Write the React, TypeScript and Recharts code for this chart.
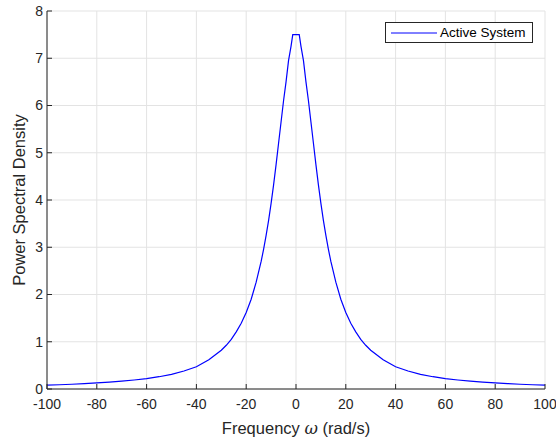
import React from 'react'
import {
  LineChart,
  Line,
  XAxis,
  YAxis,
  CartesianGrid,
  Legend,
  Label,
} from 'recharts'

// frequency samples (rad/s)
const omega = [
  -100, -95, -90, -85, -80, -75, -70, -65, -60, -55, -50, -45, -40, -35, -30,
  -28, -26, -24, -22, -20, -18, -16, -14, -13, -12, -11, -10, -9, -8, -7, -6,
  -5, -4, -3, -2, -1.3, 0, 1.3, 2, 3, 4, 5, 6, 7, 8, 9, 10, 11, 12, 13, 14, 16,
  18, 20, 22, 24, 26, 28, 30, 35, 40, 45, 50, 55, 60, 65, 70, 75, 80, 85, 90,
  95, 100,
]

// power spectral density
const psd = [
  0.08, 0.09, 0.1, 0.115, 0.13, 0.145, 0.165, 0.19, 0.22, 0.26, 0.31, 0.38,
  0.47, 0.62, 0.82, 0.925, 1.05, 1.21, 1.39, 1.62, 1.9, 2.26, 2.7, 2.96, 3.25,
  3.57, 3.93, 4.32, 4.75, 5.2, 5.65, 6.1, 6.5, 6.95, 7.25, 7.5, 7.5, 7.5, 7.25,
  6.95, 6.5, 6.1, 5.65, 5.2, 4.75, 4.32, 3.93, 3.57, 3.25, 2.96, 2.7, 2.26, 1.9,
  1.62, 1.39, 1.21, 1.05, 0.925, 0.82, 0.62, 0.47, 0.38, 0.31, 0.26, 0.22, 0.19,
  0.165, 0.145, 0.13, 0.115, 0.1, 0.09, 0.08,
]

const xTicks = [-100, -80, -60, -40, -20, 0, 20, 40, 60, 80, 100]
const yTicks = [0, 1, 2, 3, 4, 5, 6, 7, 8]
const seriesName = 'Active System'

const data = omega.map((w, i) => ({ w, psd: psd[i] }))

const axisColor = '#262626'
const font = '"Liberation Sans", Arial, sans-serif'

function XLabel({ viewBox }: any) {
  const cx = viewBox.x + viewBox.width / 2
  return (
    <text x={cx} y={viewBox.y + 45} textAnchor="middle" fill={axisColor} fontSize={16.5} fontFamily={font}>
      Frequency <tspan fontStyle="italic" fontFamily='"DejaVu Serif", serif'>ω</tspan> (rad/s)
    </text>
  )
}

function YLabel({ viewBox }: any) {
  const cy = viewBox.y + viewBox.height / 2
  const x = 25
  return (
    <text x={x} y={cy} transform={`rotate(-90, ${x}, ${cy})`} textAnchor="middle" fill={axisColor} fontSize={16.5} fontFamily={font}>
      Power Spectral Density
    </text>
  )
}

function LegendBox() {
  return (
    <div
      style={{
        border: `1px solid ${axisColor}`,
        background: '#fff',
        display: 'flex',
        alignItems: 'center',
        padding: '2px 6px 2px 5px',
        fontFamily: font,
        fontSize: 13.5,
        color: '#000',
        whiteSpace: 'nowrap',
      }}
    >
      <svg width={46} height={10} style={{ display: 'block' }}>
        <line x1={0} y1={5} x2={46} y2={5} stroke="#0000ff" strokeWidth={1} />
      </svg>
      <span style={{ marginLeft: 3 }}>{seriesName}</span>
    </div>
  )
}

export default function App() {
  const tickStyle = { fontSize: 14, fill: axisColor, fontFamily: font }
  return (
    <div style={{ position: 'absolute', left: 0, top: 0, width: 556, height: 440, background: '#fff' }}>
      <LineChart width={556} height={440} data={data} margin={{ top: 11, right: 11, left: 0, bottom: 0 }}>
        <CartesianGrid stroke="#e3e3e3" />
        <XAxis
          dataKey="w"
          type="number"
          domain={[-100, 100]}
          ticks={xTicks}
          height={51}
          tick={tickStyle}
          tickSize={-5}
          tickMargin={15}
          stroke={axisColor}
          interval={0}
        >
          <Label content={<XLabel />} />
        </XAxis>
        <XAxis
          xAxisId="top"
          orientation="top"
          dataKey="w"
          type="number"
          domain={[-100, 100]}
          ticks={xTicks}
          height={0}
          tick={false}
          tickSize={-5}
          stroke={axisColor}
        />
        <YAxis
          type="number"
          domain={[0, 8]}
          ticks={yTicks}
          width={47}
          tick={tickStyle}
          tickSize={-5}
          tickMargin={9}
          stroke={axisColor}
          interval={0}
        >
          <Label content={<YLabel />} />
        </YAxis>
        <YAxis
          yAxisId="right"
          orientation="right"
          type="number"
          domain={[0, 8]}
          ticks={yTicks}
          width={0}
          tick={false}
          tickSize={-5}
          stroke={axisColor}
        />
        <Legend
          layout="vertical"
          align="center"
          verticalAlign="middle"
          content={<LegendBox />}
          wrapperStyle={{ top: 22, left: 385, width: 'auto', height: 'auto' }}
        />
        <Line
          type="linear"
          dataKey="psd"
          name={seriesName}
          stroke="#0000ff"
          strokeWidth={1.2}
          dot={false}
          isAnimationActive={false}
        />
      </LineChart>
    </div>
  )
}
